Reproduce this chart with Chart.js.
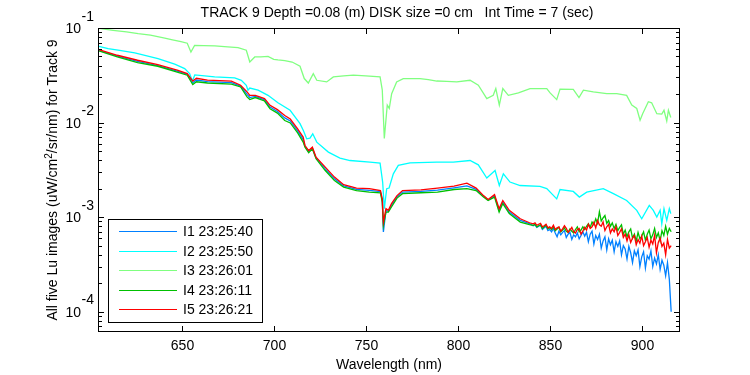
<!DOCTYPE html>
<html lang="en">
<head>
  <meta charset="UTF-8">
  <title>Track 9 Lu spectra</title>
  <script src="https://cdn.jsdelivr.net/npm/chart.js"></script>
  <style>
    html, body { margin: 0; padding: 0; background: #fff; }
    canvas { display: block; }
  </style>
</head>
<body>
  <canvas id="luChart" width="750" height="375"></canvas>
  <script>
    // wavelengths (nm) shared by I1, I4 and I5
    const wlMain = [605, 615, 626, 637, 648, 653, 656, 658, 664, 677,
      682, 685.5, 687, 690, 695, 698, 702, 706, 709, 713,
      716, 717, 719, 721, 723, 728, 733, 738, 745, 752,
      758, 759, 759.6, 761, 762.3, 764, 767, 770, 780, 789,
      798, 805, 810, 814, 816.5, 820, 822.5, 824.5, 828, 834,
      839,
      841, 842, 843, 844, 845, 846, 847, 848, 849, 850,
      851, 852, 853, 854, 855, 856, 857, 858, 859, 860,
      861, 862, 863, 864, 865, 866, 867, 868, 869, 870,
      871, 872, 873, 874, 875, 876, 877, 878, 879, 880,
      881, 882, 883, 884, 885, 886, 887, 888, 889, 890,
      891, 892, 893, 894, 895, 896, 897, 898, 899, 900,
      901, 902, 903, 904, 905, 906, 907, 908, 909, 910,
      911, 912, 913, 914, 915, 916];

    // I1 23:25:40
    const lu1 = [0.0581, 0.0504, 0.0443, 0.0401, 0.0348, 0.0323, 0.0263, 0.0282, 0.0271, 0.0264,
      0.0243, 0.0199, 0.0184, 0.0189, 0.0174, 0.0146, 0.0131, 0.0112, 0.0104, 0.00817,
      0.00661, 0.00560, 0.00492, 0.00538, 0.00422, 0.00324, 0.00254, 0.00214, 0.00197, 0.00192,
      0.00186, 0.00150, 0.000696, 0.00118, 0.00115, 0.00133, 0.00164, 0.00184, 0.00187, 0.00193,
      0.00204, 0.00214, 0.00197, 0.00166, 0.00152, 0.00168, 0.00118, 0.00144, 0.00113, 0.000924,
      0.000852,
      8.1e-4, 8.3e-4, 7.8e-4, 8.0e-4, 8.2e-4, 7.4e-4, 7.7e-4, 8.0e-4, 7.2e-4, 7.4e-4,
      7.0e-4, 7.6e-4, 6.8e-4, 6.2e-4, 7.1e-4, 6.5e-4, 6.9e-4, 7.2e-4, 6.1e-4, 6.6e-4,
      6.9e-4, 5.8e-4, 6.5e-4, 6.2e-4, 6.8e-4, 5.9e-4, 6.4e-4, 7.0e-4, 6.3e-4, 6.9e-4,
      5.5e-4, 6.6e-4, 7.1e-4, 5.2e-4, 6.4e-4, 5.8e-4, 6.6e-4, 4.7e-4, 5.6e-4, 6.2e-4,
      4.5e-4, 5.9e-4, 5.1e-4, 5.7e-4, 4.3e-4, 5.5e-4, 4.9e-4, 5.6e-4, 4.0e-4, 5.0e-4,
      4.6e-4, 3.6e-4, 4.9e-4, 4.2e-4, 3.3e-4, 4.4e-4, 3.9e-4, 4.5e-4, 3.0e-4, 3.8e-4,
      4.3e-4, 2.9e-4, 3.9e-4, 3.6e-4, 4.4e-4, 3.0e-4, 3.7e-4, 3.2e-4, 4.0e-4, 2.8e-4,
      3.5e-4, 3.1e-4, 2.4e-4, 3.3e-4, 2.2e-4, 1.0e-4];

    // I4 23:26:11
    const lu4 = [0.0572, 0.0494, 0.0430, 0.0394, 0.0340, 0.0317, 0.0252, 0.0270, 0.0262, 0.0255,
      0.0238, 0.0187, 0.0175, 0.0184, 0.0169, 0.0140, 0.0126, 0.0105, 0.0099, 0.00778,
      0.00621, 0.00549, 0.00479, 0.00527, 0.00414, 0.00311, 0.00244, 0.00208, 0.00191, 0.00184,
      0.00181, 0.00144, 0.000817, 0.00113, 0.00113, 0.00128, 0.00159, 0.00177, 0.00181, 0.00184,
      0.00196, 0.00200, 0.00191, 0.00163, 0.00150, 0.00163, 0.00113, 0.00139, 0.00109, 0.000887,
      0.000832,
      8.2e-4, 8.4e-4, 7.9e-4, 8.1e-4, 8.3e-4, 7.6e-4, 7.9e-4, 8.2e-4, 7.5e-4, 7.7e-4,
      7.4e-4, 7.9e-4, 7.2e-4, 7.5e-4, 7.8e-4, 7.0e-4, 7.3e-4, 7.7e-4, 7.1e-4, 6.9e-4,
      7.5e-4, 7.1e-4, 6.8e-4, 7.4e-4, 7.9e-4, 7.0e-4, 7.3e-4, 7.9e-4, 7.4e-4, 8.0e-4,
      8.5e-4, 7.8e-4, 8.9e-4, 8.3e-4, 9.6e-4, 8.6e-4, 1.14e-3, 9.1e-4, 9.8e-4, 1.04e-3,
      8.6e-4, 9.2e-4, 8.0e-4, 8.7e-4, 7.6e-4, 8.4e-4, 7.2e-4, 7.8e-4, 8.3e-4, 6.6e-4,
      7.3e-4, 6.2e-4, 7.0e-4, 7.5e-4, 6.0e-4, 6.6e-4, 5.6e-4, 6.9e-4, 5.9e-4, 6.3e-4,
      7.0e-4, 5.7e-4, 6.6e-4, 7.3e-4, 5.9e-4, 6.5e-4, 7.6e-4, 6.1e-4, 6.8e-4, 5.6e-4,
      7.2e-4, 6.4e-4, 8.0e-4, 6.6e-4, 7.6e-4, 7.0e-4];

    // I5 23:26:21
    const lu5 = [0.0591, 0.0515, 0.0456, 0.0409, 0.0357, 0.0329, 0.0275, 0.0294, 0.0281, 0.0274,
      0.0248, 0.0211, 0.0194, 0.0194, 0.0179, 0.0152, 0.0137, 0.0119, 0.0109, 0.00857,
      0.00702, 0.00572, 0.00506, 0.00549, 0.00431, 0.00338, 0.00265, 0.00220, 0.00203, 0.00200,
      0.00191, 0.00156, 0.000887, 0.00123, 0.00118, 0.00139, 0.00169, 0.00191, 0.00194, 0.00203,
      0.00213, 0.00229, 0.00203, 0.00169, 0.00154, 0.00173, 0.00123, 0.00150, 0.00118, 0.000962,
      0.000872,
      8.5e-4, 8.7e-4, 8.2e-4, 8.4e-4, 8.6e-4, 7.9e-4, 8.1e-4, 8.4e-4, 7.7e-4, 7.9e-4,
      7.6e-4, 8.2e-4, 7.4e-4, 7.7e-4, 7.9e-4, 7.1e-4, 7.5e-4, 8.1e-4, 7.6e-4, 6.9e-4,
      7.3e-4, 7.8e-4, 7.0e-4, 6.8e-4, 7.4e-4, 7.6e-4, 6.6e-4, 7.1e-4, 7.8e-4, 7.3e-4,
      8.4e-4, 7.6e-4, 7.9e-4, 8.8e-4, 7.7e-4, 9.2e-4, 8.3e-4, 8.0e-4, 8.9e-4, 7.2e-4,
      7.9e-4, 8.4e-4, 6.8e-4, 7.5e-4, 7.0e-4, 7.9e-4, 6.4e-4, 6.9e-4, 7.5e-4, 6.1e-4,
      6.6e-4, 5.6e-4, 6.5e-4, 5.4e-4, 6.0e-4, 6.4e-4, 5.1e-4, 5.8e-4, 5.3e-4, 6.3e-4,
      5.0e-4, 5.5e-4, 6.1e-4, 4.8e-4, 5.7e-4, 5.2e-4, 6.4e-4, 4.2e-4, 5.4e-4, 6.0e-4,
      4.9e-4, 5.3e-4, 4.0e-4, 5.8e-4, 4.7e-4, 5.0e-4];

    // I2 23:25:50
    const wlI2 = [605, 610, 615.4, 624.5, 637.1, 646.2, 651.6, 654.3, 655.8, 657.1,
      667.9, 678.8, 682.4, 685.1, 686, 687, 691.5, 696.9, 702.3, 708.9,
      714.3, 716.1, 717.9, 719.7, 721.2, 723.4, 729.7, 736, 741.5, 752.3,
      757.8, 759.2, 760.1, 761.4, 762.7, 765, 767.7, 774.1, 788.6, 797.6,
      806.7, 811.2, 815.8, 820.3, 822.6, 824.8, 828.4, 833.9, 844.7, 848.4,
      853.8, 855.6, 862.8, 866.1, 870.1, 879.1, 884.6, 891.8, 897.3, 900,
      904.1, 906.3, 908.2, 910, 910.9, 912.1, 913.6, 915, 915.8];
    const lu2 = [0.0641, 0.0604, 0.0582, 0.0545, 0.0474, 0.0414, 0.0372, 0.0329, 0.0275, 0.0319,
      0.0304, 0.0297, 0.0280, 0.0248, 0.0220, 0.0232, 0.0220, 0.0194, 0.0162, 0.0135,
      0.00975, 0.00824, 0.00673, 0.00685, 0.00760, 0.00621, 0.00487, 0.00421, 0.00397, 0.00382,
      0.00373, 0.00235, 0.00123, 0.00200, 0.00203, 0.00287, 0.00352, 0.00375, 0.00382, 0.00382,
      0.00397, 0.00357, 0.00259, 0.00311, 0.00216, 0.00287, 0.00235, 0.00216, 0.00211, 0.00200,
      0.00156, 0.00196, 0.00187, 0.00163, 0.00184, 0.00200, 0.00177, 0.00150, 0.00118, 0.000962,
      0.00133, 0.00118, 0.00100, 0.00118, 0.000851, 0.00123, 0.000923, 0.00123, 0.00109];

    // I3 23:26:01
    const wlI3 = [605, 612.7, 620, 626.3, 633, 640.8, 645, 649.6, 653, 655,
      657, 662, 668, 675, 680.6, 685.1, 687, 689.7, 693, 696.9,
      700, 702.3, 706, 710, 714.3, 716.6, 718.8, 721.5, 723.4, 728.8,
      732.4, 738, 743.3, 750, 757.8, 759, 760.1, 761, 761.7, 762.8,
      764.1, 766.8, 770.4, 775, 779.5, 784, 788.6, 794, 799.5, 806.7,
      811.2, 815.8, 819.3, 820.7, 822.6, 824.5, 827.5, 833, 839.3, 844,
      848.4, 850.2, 853.8, 855.6, 862.8, 865.9, 868.3, 873.7, 881, 886.4,
      891.8, 894.6, 897.3, 899.1, 900.5, 903.6, 905.4, 908.2, 910.9, 912.1,
      913.6, 914.5, 915.8];
    const lu3 = [0.099, 0.0945, 0.091, 0.087, 0.084, 0.078, 0.075, 0.0716, 0.069, 0.0558,
      0.0656, 0.0652, 0.0646, 0.063, 0.0619, 0.0582, 0.0438, 0.0494, 0.0495, 0.0502,
      0.0467, 0.046, 0.0452, 0.0437, 0.0394, 0.0292, 0.0262, 0.0329, 0.0280, 0.0269,
      0.0304, 0.0312, 0.0317, 0.0312, 0.0304, 0.0220, 0.00678, 0.0107, 0.0153, 0.0141,
      0.0202, 0.0269, 0.0292, 0.0292, 0.0292, 0.0285, 0.0275, 0.0272, 0.0269, 0.0280,
      0.0248, 0.0179, 0.0194, 0.0229, 0.0153, 0.0229, 0.0194, 0.0206, 0.0229, 0.0229,
      0.0229, 0.0206, 0.0175, 0.0226, 0.0224, 0.0184, 0.0220, 0.0211, 0.0202, 0.0202,
      0.0194, 0.0153, 0.0141, 0.0106, 0.0124, 0.0166, 0.0162, 0.0124, 0.0123, 0.0135,
      0.0104, 0.0135, 0.0113];

    const seriesNames = ['I1 23:25:40', 'I2 23:25:50', 'I3 23:26:01', 'I4 23:26:11', 'I5 23:26:21'];
    const seriesColors = ['rgb(0,128,255)', 'rgb(0,255,255)', 'rgb(128,255,128)', 'rgb(0,192,0)', 'rgb(255,0,0)'];
    const xTicks = [650, 700, 750, 800, 850, 900];
    const yDecades = [-4, -3, -2, -1];

    const chartTitle = 'TRACK 9 Depth =0.08 (m) DISK size =0 cm   Int Time = 7 (sec)';
    const FONT = '14px "Liberation Sans", Arial, sans-serif';
    const SUP_FONT = '10px "Liberation Sans", Arial, sans-serif';

    function pts(wl, vals) {
      return wl.map((w, i) => ({ x: w, y: vals[i] }));
    }

    const seriesData = [pts(wlMain, lu1), pts(wlI2, lu2), pts(wlI3, lu3), pts(wlMain, lu4), pts(wlMain, lu5)];

    // axes box, inward ticks, labels and legend in the old matlab look
    const matlabAxes = {
      id: 'matlabAxes',
      afterDraw(chart) {
        const { ctx, chartArea: a } = chart;
        const xs = chart.scales.x, ys = chart.scales.y;
        ctx.save();
        ctx.strokeStyle = '#000';
        ctx.fillStyle = '#000';
        ctx.lineWidth = 1;
        ctx.strokeRect(a.left + 0.5, a.top + 0.5, a.right - a.left - 1, a.bottom - a.top - 1);

        ctx.font = FONT;
        ctx.textBaseline = 'alphabetic';
        ctx.textAlign = 'center';
        ctx.beginPath();
        xTicks.forEach(v => {
          const px = Math.round(xs.getPixelForValue(v)) + 0.5;
          ctx.moveTo(px, a.bottom); ctx.lineTo(px, a.bottom - 6);
          ctx.moveTo(px, a.top); ctx.lineTo(px, a.top + 6);
          ctx.fillText(String(v), px, 350);
        });
        for (let e = yDecades[0] - 1; e <= yDecades[yDecades.length - 1]; e++) {
          for (let m = 1; m <= 9; m++) {
            const v = m * Math.pow(10, e);
            if (v < ys.min || v > ys.max) continue;
            const py = Math.round(ys.getPixelForValue(v)) + 0.5;
            const len = m === 1 ? 6 : 4;
            ctx.moveTo(a.left, py); ctx.lineTo(a.left + len, py);
            ctx.moveTo(a.right, py); ctx.lineTo(a.right - len, py);
          }
        }
        ctx.stroke();

        yDecades.forEach(e => {
          const py = ys.getPixelForValue(Math.pow(10, e));
          ctx.textAlign = 'right';
          ctx.fillText('10', 81, py + 5);
          ctx.textAlign = 'left';
          ctx.fillText(String(e), 81.5, py - 7.5);
        });

        ctx.textAlign = 'center';
        ctx.fillText(chartTitle, 397, 17);
        ctx.fillText('Wavelength (nm)', (a.left + a.right) / 2, 369);

        // y label with superscript 2
        const p1 = 'All five Lu images (uW/cm', p2 = '/sr/nm) for Track 9';
        ctx.save();
        ctx.translate(57, (a.top + a.bottom) / 2);
        ctx.rotate(-Math.PI / 2);
        ctx.textAlign = 'left';
        const w1 = ctx.measureText(p1).width, w2 = ctx.measureText(p2).width;
        ctx.font = SUP_FONT;
        const ws = ctx.measureText('2').width;
        const sx = -(w1 + ws + w2) / 2;
        ctx.font = FONT;
        ctx.fillText(p1, sx, 0);
        ctx.font = SUP_FONT;
        ctx.fillText('2', sx + w1, -5);
        ctx.font = FONT;
        ctx.fillText(p2, sx + w1 + ws, 0);
        ctx.restore();

        // legend box
        ctx.fillStyle = '#fff';
        ctx.fillRect(108.5, 219.5, 154, 103);
        ctx.strokeRect(108.5, 219.5, 154, 103);
        ctx.fillStyle = '#000';
        ctx.textAlign = 'left';
        seriesNames.forEach((name, i) => {
          const ry = 231 + i * 19.5;
          ctx.strokeStyle = seriesColors[i];
          ctx.beginPath();
          ctx.moveTo(119, Math.round(ry) + 0.5);
          ctx.lineTo(177, Math.round(ry) + 0.5);
          ctx.stroke();
          ctx.fillText(name, 183, ry + 5);
        });
        ctx.restore();
      }
    };

    new Chart(document.getElementById('luChart'), {
      type: 'line',
      data: {
        datasets: seriesNames.map((name, i) => ({
          label: name,
          data: seriesData[i],
          borderColor: seriesColors[i],
          backgroundColor: seriesColors[i],
          borderWidth: 1.3,
          pointRadius: 0,
          tension: 0,
          fill: false,
          order: 5 - i
        }))
      },
      options: {
        responsive: false,
        animation: false,
        events: [],
        layout: { padding: { left: 98, top: 28, right: 70, bottom: 43 } },
        plugins: {
          legend: { display: false },
          title: { display: false },
          tooltip: { enabled: false }
        },
        scales: {
          x: { type: 'linear', min: 604.5, max: 920.8, display: false },
          y: { type: 'logarithmic', min: 6.1e-5, max: 0.1, display: false }
        }
      },
      plugins: [matlabAxes]
    });
  </script>
</body>
</html>
